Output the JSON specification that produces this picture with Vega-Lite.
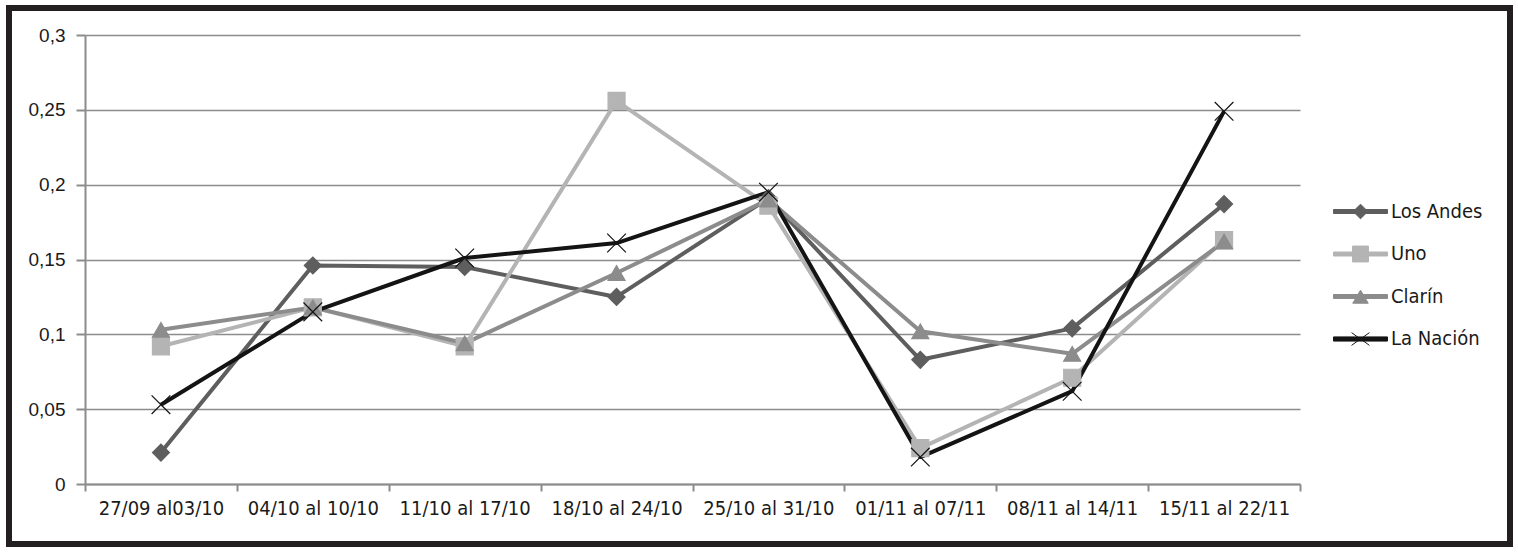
{
  "$schema": "https://vega.github.io/schema/vega-lite/v6.json",
  "autosize": {"type": "none"},
  "padding": {"left": 9, "top": 8, "right": 8, "bottom": 8},
  "width": 1501,
  "height": 536,
  "background": "white",
  "config": {
    "view": {"stroke": "#231f20", "strokeWidth": 6, "fill": "white"},
    "axis": {
      "domainColor": "#8c8c8c", "domainWidth": 2,
      "tickColor": "#8c8c8c", "tickWidth": 2,
      "gridColor": "#8c8c8c", "gridWidth": 1.5,
      "labelColor": "#1a1a1a", "title": null
    },
    "legend": {
      "title": null, "orient": "none", "legendX": 1331, "legendY": 183,
      "symbolSize": 1576, "rowPadding": 11.5, "labelOffset": 10, "labelLimit": 300,
      "labelFont": "Liberation Sans Narrow, Arial Narrow, DejaVu Sans Condensed, sans-serif",
      "labelFontSize": 20, "labelColor": "#1a1a1a"
    }
  },
  "data": {
    "values": [
      {"semana": "27/09 al03/10", "diario": "Los Andes", "valor": 0.021},
      {"semana": "04/10 al 10/10", "diario": "Los Andes", "valor": 0.146},
      {"semana": "11/10 al 17/10", "diario": "Los Andes", "valor": 0.145},
      {"semana": "18/10 al 24/10", "diario": "Los Andes", "valor": 0.125},
      {"semana": "25/10 al 31/10", "diario": "Los Andes", "valor": 0.191},
      {"semana": "01/11 al 07/11", "diario": "Los Andes", "valor": 0.083},
      {"semana": "08/11 al 14/11", "diario": "Los Andes", "valor": 0.104},
      {"semana": "15/11 al 22/11", "diario": "Los Andes", "valor": 0.187},
      {"semana": "27/09 al03/10", "diario": "Uno", "valor": 0.092},
      {"semana": "04/10 al 10/10", "diario": "Uno", "valor": 0.118},
      {"semana": "11/10 al 17/10", "diario": "Uno", "valor": 0.092},
      {"semana": "18/10 al 24/10", "diario": "Uno", "valor": 0.256},
      {"semana": "25/10 al 31/10", "diario": "Uno", "valor": 0.186},
      {"semana": "01/11 al 07/11", "diario": "Uno", "valor": 0.024},
      {"semana": "08/11 al 14/11", "diario": "Uno", "valor": 0.071},
      {"semana": "15/11 al 22/11", "diario": "Uno", "valor": 0.163},
      {"semana": "27/09 al03/10", "diario": "Clarín", "valor": 0.103},
      {"semana": "04/10 al 10/10", "diario": "Clarín", "valor": 0.118},
      {"semana": "11/10 al 17/10", "diario": "Clarín", "valor": 0.094},
      {"semana": "18/10 al 24/10", "diario": "Clarín", "valor": 0.141},
      {"semana": "25/10 al 31/10", "diario": "Clarín", "valor": 0.19},
      {"semana": "01/11 al 07/11", "diario": "Clarín", "valor": 0.102},
      {"semana": "08/11 al 14/11", "diario": "Clarín", "valor": 0.087},
      {"semana": "15/11 al 22/11", "diario": "Clarín", "valor": 0.162},
      {"semana": "27/09 al03/10", "diario": "La Nación", "valor": 0.053},
      {"semana": "04/10 al 10/10", "diario": "La Nación", "valor": 0.115},
      {"semana": "11/10 al 17/10", "diario": "La Nación", "valor": 0.151},
      {"semana": "18/10 al 24/10", "diario": "La Nación", "valor": 0.161},
      {"semana": "25/10 al 31/10", "diario": "La Nación", "valor": 0.195},
      {"semana": "01/11 al 07/11", "diario": "La Nación", "valor": 0.018},
      {"semana": "08/11 al 14/11", "diario": "La Nación", "valor": 0.062},
      {"semana": "15/11 al 22/11", "diario": "La Nación", "valor": 0.249}
    ]
  },
  "encoding": {
    "x": {
      "field": "semana", "type": "nominal", "sort": null, "bandPosition": 0.5,
      "scale": {"type": "band", "range": [76, 1291], "paddingInner": 0, "paddingOuter": 0},
      "axis": {
        "offset": -60, "tickBand": "extent", "tickSize": 7, "grid": false,
        "labelAngle": 0, "labelOverlap": false, "labelPadding": 7, "labelLimit": 300,
        "labelFont": "Liberation Sans Narrow, Arial Narrow, DejaVu Sans Condensed, sans-serif",
        "labelFontSize": 20
      }
    },
    "y": {
      "field": "valor", "type": "quantitative",
      "scale": {"domain": [0, 0.3], "range": [476, 27], "nice": false, "zero": true},
      "axis": {
        "offset": -76, "values": [0, 0.05, 0.1, 0.15, 0.2, 0.25, 0.3],
        "labelExpr": "replace(format(datum.value, '.2~f'), '.', ',')",
        "tickSize": 9, "labelPadding": 11, "grid": true,
        "labelFont": "Liberation Sans", "labelFontSize": 19
      }
    }
  },
  "layer": [
    {
      "mark": {"type": "line", "strokeWidth": 4, "strokeJoin": "round"},
      "encoding": {
        "color": {
          "field": "diario", "type": "nominal",
          "scale": {"domain": ["Los Andes", "Uno", "Clarín", "La Nación"], "range": ["#5e5e5e", "#b4b4b4", "#8c8c8c", "#141414"]},
          "legend": {
            "encoding": {
              "symbols": {
                "strokeWidth": {"value": 1},
                "opacity": {"value": 1},
                "shape": {
                  "condition": [
                    {"test": "datum.value === 'Los Andes'", "value": "M-1.36,-0.1H1.36V0.1H-1.36Z M0,-0.37L0.37,0L0,0.37L-0.37,0Z"},
                    {"test": "datum.value === 'Uno'", "value": "M-1.36,-0.1H1.36V0.1H-1.36Z M-0.4,-0.4H0.4V0.4H-0.4Z"},
                    {"test": "datum.value === 'Clarín'", "value": "M-1.36,-0.1H1.36V0.1H-1.36Z M0,-0.32L0.39,0.34H-0.39Z"}
                  ],
                  "value": "M-1.36,-0.105H1.36V0.105H-1.36Z M-0.45,-0.32L0.45,0.32M-0.45,0.32L0.45,-0.32"
                },
                "fill": {
                  "condition": [
                    {"test": "datum.value === 'Los Andes'", "value": "#5e5e5e"},
                    {"test": "datum.value === 'Uno'", "value": "#b4b4b4"},
                    {"test": "datum.value === 'Clarín'", "value": "#8c8c8c"}
                  ],
                  "value": "#141414"
                }
              }
            }
          }
        }
      }
    },
    {
      "mark": {"type": "point", "filled": true, "opacity": 1, "size": 289, "strokeWidth": 1.2},
      "encoding": {
        "fill": {
          "field": "diario", "type": "nominal",
          "scale": {"domain": ["Uno", "Los Andes", "Clarín", "La Nación"], "range": ["#b4b4b4", "#5e5e5e", "#8c8c8c", "#141414"]},
          "legend": null
        },
        "stroke": {
          "field": "diario", "type": "nominal",
          "scale": {"domain": ["Uno", "Los Andes", "Clarín", "La Nación"], "range": ["#b4b4b4", "#5e5e5e", "#8c8c8c", "#141414"]},
          "legend": null
        },
        "shape": {
          "field": "diario", "type": "nominal",
          "scale": {"domain": ["Uno", "Los Andes", "Clarín", "La Nación"], "range": ["square", "diamond", "triangle-up", "M-1.1,-1.1L1.1,1.1M-1.1,1.1L1.1,-1.1"]},
          "legend": null
        }
      }
    }
  ]
}
